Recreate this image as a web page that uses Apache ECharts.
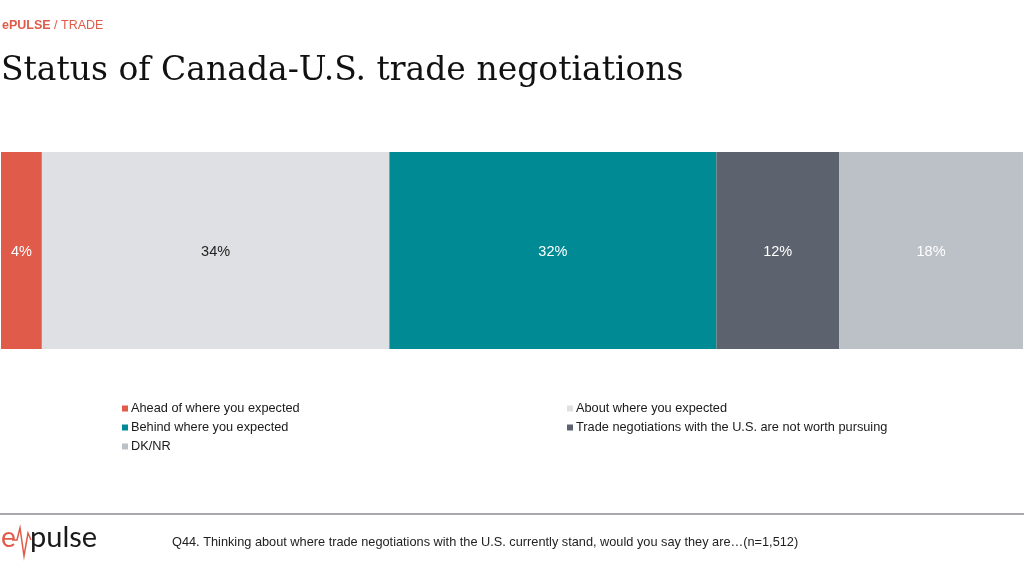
<!DOCTYPE html>
<html>
<head>
<meta charset="utf-8">
<script src="https://cdn.jsdelivr.net/npm/echarts@6/dist/echarts.min.js"></script>
<style>
  html, body { margin: 0; padding: 0; background: #fff; }
  #main { width: 1024px; height: 576px; }
</style>
</head>
<body>
<div id="main"></div>
<script>
// answer categories and their shares (%)
const answers = [
    'Ahead of where you expected',
    'About where you expected',
    'Behind where you expected',
    'Trade negotiations with the U.S. are not worth pursuing',
    'DK/NR'
];
const shares = [4, 34, 32, 12, 18];
const barColors = ['#e05b49', '#dfe0e3', '#008b94', '#5d636e', '#bcc0c7'];
const labelColors = ['#ffffff', '#222222', '#ffffff', '#ffffff', '#ffffff'];
const rowLabel = ['Status'];

const chart = echarts.init(document.getElementById('main'));
const sans = '"Liberation Sans", Arial, sans-serif';

const series = answers.map(function (name, i) {
    return {
        name: name,
        type: 'bar',
        stack: 'total',
        barWidth: '100%',
        data: [shares[i]],
        itemStyle: { color: barColors[i] },
        label: {
            show: true,
            position: 'inside',
            formatter: '{c}%',
            color: labelColors[i],
            fontFamily: sans,
            fontSize: 14.5,
            offset: [0, 1]
        },
        emphasis: { disabled: true }
    };
});

const legendText = { fontFamily: sans, fontSize: 12.75, color: '#1a1a1a', padding: [0, 0, 0, -2] };

chart.setOption({
    animation: false,
    grid: { left: 1, right: 1, top: 152, height: 197 },
    xAxis: { type: 'value', min: 0, max: 100, show: false },
    yAxis: { type: 'category', data: rowLabel, show: false },
    legend: [
        {
            data: [answers[0], answers[2], answers[4]],
            orient: 'vertical',
            left: 117, top: 397,
            itemWidth: 6, itemHeight: 6, itemGap: 6,
            icon: 'rect',
            textStyle: legendText
        },
        {
            data: [answers[1], answers[3]],
            orient: 'vertical',
            left: 562, top: 397,
            itemWidth: 6, itemHeight: 6, itemGap: 6,
            icon: 'rect',
            textStyle: legendText
        }
    ],
    graphic: [
        {
            type: 'text', left: 2, top: 19,
            style: {
                text: '{b|ePULSE} / TRADE',
                fill: '#e05b49',
                font: '12.5px ' + sans,
                rich: { b: { fontWeight: 'bold', fontSize: 12.5, fontFamily: sans, fill: '#e05b49' } }
            }
        },
        {
            type: 'text', left: 1, top: 55,
            style: {
                text: 'Status of Canada-U.S. trade negotiations',
                fill: '#111',
                font: '33px "DejaVu Serif", Georgia, serif'
            }
        },
        {
            type: 'line',
            shape: { x1: 0, y1: 514, x2: 1024, y2: 514 },
            style: { stroke: '#8a8d94', lineWidth: 1.5 }
        },
        {
            type: 'text', left: 1, top: 524,
            style: { text: 'e', fill: '#e05b49', font: '28px Lato, sans-serif' }
        },
        {
            type: 'polyline',
            shape: { points: [[12, 540], [17, 540], [20, 528], [24, 556], [28, 533], [31, 540]] },
            style: { stroke: '#e05b49', lineWidth: 1.5, fill: 'none' }
        },
        {
            type: 'text', left: 30, top: 523,
            style: { text: 'pulse', fill: '#1a1a1a', font: '29px Lato, sans-serif' }
        },
        {
            type: 'text', left: 172, top: 536,
            style: {
                text: 'Q44. Thinking about where trade negotiations with the U.S. currently stand, would you say they are\u2026(n=1,512)',
                fill: '#222',
                font: '12.75px ' + sans
            }
        }
    ],
    series: series
});

window.addEventListener('resize', () => chart.resize());
</script>
</body>
</html>
